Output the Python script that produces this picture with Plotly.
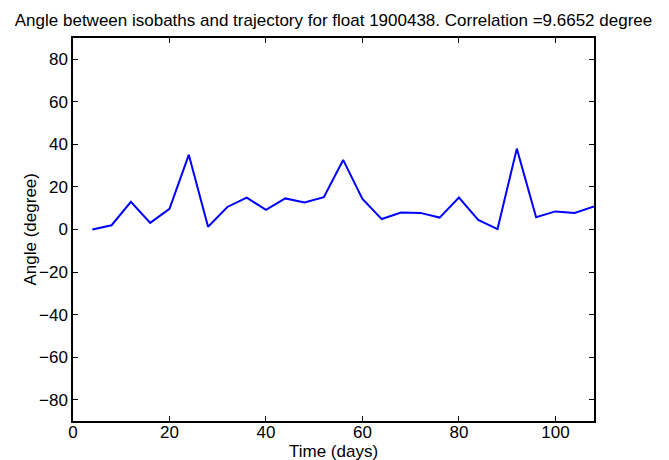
import plotly.graph_objects as go

# time in days, angle in degrees
days = [4, 8, 12, 16, 20, 24, 28, 32, 36, 40, 44, 48, 52, 56,
        60, 64, 68, 72, 76, 80, 84, 88, 92, 96, 100, 104, 108]
angle = [0.0, 2.0, 13.0, 3.1, 9.7, 35.1, 1.3, 10.6, 15.0, 9.2, 14.6, 12.7, 15.2, 32.7,
         14.4, 4.9, 8.0, 7.8, 5.6, 15.0, 4.5, 0.2, 38.0, 5.8, 8.5, 7.8, 10.8]
x_ticks = [0, 20, 40, 60, 80, 100]
y_ticks = [-80, -60, -40, -20, 0, 20, 40, 60, 80]

fig = go.Figure()
fig.add_trace(go.Scatter(
    x=days, y=angle,
    mode="lines",
    line=dict(color="#0000ff", width=2),
    showlegend=False,
))

axis_style = dict(
    showline=True, linecolor="black", linewidth=1.5,
    mirror="ticks", ticks="inside", ticklen=5, tickcolor="black",
    showgrid=False, zeroline=False, automargin=False,
    tickfont=dict(size=17, color="black"),
)

fig.update_layout(
    width=669, height=460,
    margin=dict(l=73, r=75, t=38, b=39),
    paper_bgcolor="white", plot_bgcolor="white",
    font=dict(family="Liberation Sans, Arial, sans-serif", size=17, color="black"),
    title=dict(
        text="Angle between isobaths and trajectory for float 1900438. Correlation =9.6652 degree",
        x=0.5, xref="paper", xanchor="center", y=1 - 20 / 460, yanchor="middle",
        font=dict(size=17),
    ),
    xaxis=dict(range=[0, 108], tickvals=x_ticks, ticklabelstandoff=-5, **axis_style),
    yaxis=dict(range=[-90, 90], tickvals=y_ticks, **axis_style),
)

# axis titles placed like the MATLAB figure
fig.add_annotation(text="Time (days)", xref="paper", yref="paper", x=0.5, y=0,
                   xanchor="center", yanchor="middle", yshift=-30, showarrow=False)
fig.add_annotation(text="Angle (degree)", xref="paper", yref="paper", x=0, y=0.5,
                   xanchor="center", yanchor="middle", xshift=-43, textangle=-90,
                   showarrow=False)

# drop the default page margin so the figure sits at the window origin
fig.write_html("out.html", config={"displayModeBar": False},
               post_script="document.body.style.margin = '0';")
